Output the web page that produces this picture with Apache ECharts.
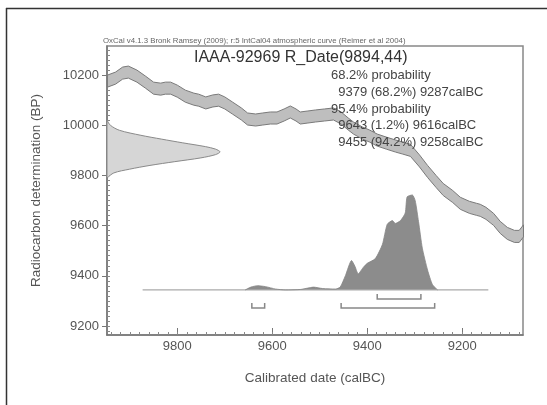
<!DOCTYPE html>
<html>
<head>
<meta charset="utf-8">
<script src="https://cdn.jsdelivr.net/npm/echarts@6/dist/echarts.min.js"></script>
<style>
  html, body { margin: 0; padding: 0; background: #fff; }
  #chart { width: 547px; height: 405px; }
</style>
</head>
<body>
<div id="chart"></div>
<script>
// calibration curve (calBC -> radiocarbon BP, band half width)
const curveCal = [9947, 9930, 9915, 9903, 9885, 9867, 9850, 9835, 9825, 9814, 9800, 9783, 9765, 9755, 9740,
  9725, 9713, 9700, 9684, 9665, 9652, 9635, 9620, 9604, 9590, 9575, 9562, 9550, 9541, 9525, 9509, 9490,
  9471, 9455, 9440, 9429, 9410, 9395, 9379, 9360, 9340, 9325, 9309, 9290, 9273, 9255, 9240, 9220, 9204,
  9185, 9170, 9162, 9150, 9134, 9120, 9105, 9090, 9080, 9071]
const curveBP = [10176, 10188, 10208, 10212, 10196, 10172, 10148, 10144, 10148, 10148, 10136, 10116, 10104,
  10100, 10089, 10097, 10100, 10089, 10069, 10045, 10025, 10021, 10025, 10029, 10029, 10041, 10053, 10041,
  10029, 10033, 10037, 10041, 10045, 10029, 10005, 9989, 9969, 9957, 9941, 9929, 9917, 9909, 9900, 9858,
  9816, 9776, 9744, 9716, 9689, 9673, 9665, 9661, 9649, 9625, 9593, 9569, 9557, 9557, 9579]
const curveErr = 24

// radiocarbon determination 9894 +/- 44 (relative density)
const priorBP = [10020, 10000, 9980, 9960, 9945, 9930, 9915, 9905, 9894, 9883, 9870, 9855, 9840, 9825, 9810, 9790]
const priorDens = [0, 0.03, 0.11, 0.30, 0.48, 0.67, 0.87, 0.96, 1.0, 0.96, 0.83, 0.60, 0.38, 0.20, 0.06, 0]

// calibrated posterior (relative)
const postCal = [9657, 9645, 9631, 9614, 9593, 9572, 9541, 9525, 9513, 9494, 9467, 9457, 9446, 9433, 9426,
  9419, 9408, 9400, 9383, 9368, 9358, 9347, 9341, 9330, 9320, 9316, 9305, 9299, 9292, 9284, 9273, 9263, 9252]
const postDens = [0, 0.03, 0.045, 0.035, 0.01, 0, 0.005, 0.02, 0.03, 0.015, 0.01, 0.03, 0.15, 0.31, 0.25,
  0.17, 0.24, 0.28, 0.33, 0.48, 0.69, 0.73, 0.70, 0.73, 0.81, 0.98, 1.0, 0.94, 0.72, 0.44, 0.21, 0.06, 0]
const baselineCal = [9873, 9145]

// highest probability ranges
const rangeFrom = [9379, 9643, 9455]
const rangeTo = [9287, 9616, 9258]
const rangeRow = [0, 1, 1]

const xTicks = [9200, 9400, 9600, 9800]
const yTicks = [9200, 9400, 9600, 9800, 10000, 10200]

const titleText = 'IAAA-92969 R_Date(9894,44)'
const creditText = 'OxCal v4.1.3 Bronk Ramsey (2009); r:5 IntCal04 atmospheric curve (Reimer et al 2004)'
const summaryLines = [
  '68.2% probability',
  '  9379 (68.2%) 9287calBC',
  '95.4% probability',
  '  9643 (1.2%) 9616calBC',
  '  9455 (94.2%) 9258calBC',
]

const FONT = 'Liberation Sans, Arial, sans-serif'
const xMinor = []
for (let v = 9080; v <= 9940; v += 20) xMinor.push(v)
const yMinor = []
for (let v = 9180; v <= 10300; v += 20) yMinor.push(v)

const chart = echarts.init(document.getElementById('chart'), null, { renderer: 'canvas' })

const bandData = curveCal.map((c, i) => [c, curveBP[i] - curveErr, curveBP[i] + curveErr])
const priorData = priorBP.map((b, i) => [priorDens[i], b])
const plain = (v) => String(v)

const option = {
  animation: false,
  backgroundColor: '#fff',
  grid: {
    left: 107, top: 46, right: 24, bottom: 70,
    show: true, borderColor: '#888', borderWidth: 1.5,
  },
  xAxis: [
    {
      type: 'value', min: 9072, max: 9948, inverse: true,
      name: 'Calibrated date (calBC)', nameLocation: 'middle', nameGap: 36,
      nameTextStyle: { fontFamily: FONT, fontSize: 13.5, color: '#555' },
      axisLine: { show: true, onZero: false, lineStyle: { color: '#777', width: 1.5 } },
      axisTick: { show: true, inside: true, length: 7, customValues: xTicks, lineStyle: { color: '#777' } },
      axisLabel: { customValues: xTicks, formatter: plain, margin: 5, fontFamily: FONT, fontSize: 13, color: '#555' },
      splitLine: { show: false },
    },
    {
      type: 'value', min: 9072, max: 9948, inverse: true, position: 'bottom',
      axisLine: { show: false, onZero: false },
      axisTick: { show: true, inside: true, length: 3, customValues: xMinor, lineStyle: { color: '#888' } },
      axisLabel: { show: false },
      splitLine: { show: false },
    },
    { type: 'value', min: 0, max: 3.68, show: false, axisLine: { onZero: false }, splitLine: { show: false } },
  ],
  yAxis: [
    {
      type: 'value', min: 9164, max: 10316,
      name: 'Radiocarbon determination (BP)', nameLocation: 'middle', nameGap: 64,
      nameTextStyle: { fontFamily: FONT, fontSize: 13.5, color: '#555' },
      axisLine: { show: true, onZero: false, lineStyle: { color: '#777', width: 1.5 } },
      axisTick: { show: true, inside: false, length: 5, customValues: yTicks, lineStyle: { color: '#777' } },
      axisLabel: { customValues: yTicks, formatter: plain, margin: 8, fontFamily: FONT, fontSize: 13, color: '#555' },
      splitLine: { show: false },
    },
    {
      type: 'value', min: 9164, max: 10316, position: 'left',
      axisLine: { show: false, onZero: false },
      axisTick: { show: true, inside: true, length: 3, customValues: yMinor, lineStyle: { color: '#888' } },
      axisLabel: { show: false },
      splitLine: { show: false },
    },
    { type: 'value', min: -0.474, max: 2.568, show: false, axisLine: { onZero: false }, splitLine: { show: false } },
  ],
  series: [
    {
      // prior on the BP axis
      type: 'custom', xAxisIndex: 2, yAxisIndex: 0, silent: true,
      data: priorData,
      renderItem: (params, api) => {
        if (params.dataIndex !== 0) return
        const pts = priorData.map((d) => api.coord(d))
        pts.push(api.coord([0, priorBP[priorBP.length - 1]]))
        pts.push(api.coord([0, priorBP[0]]))
        return {
          type: 'polygon',
          shape: { points: pts, smooth: 0.3 },
          style: { fill: '#d6d6d6', stroke: '#8a8a8a', lineWidth: 1 },
        }
      },
    },
    {
      // calibration curve band
      type: 'custom', xAxisIndex: 0, yAxisIndex: 0, silent: true,
      data: bandData,
      renderItem: (params, api) => {
        if (params.dataIndex !== 0) return
        const upper = bandData.map((d) => api.coord([d[0], d[2]]))
        const lower = bandData.map((d) => api.coord([d[0], d[1]])).reverse()
        return {
          type: 'polygon',
          shape: { points: upper.concat(lower) },
          style: { fill: '#bebebe', stroke: '#7a7a7a', lineWidth: 1 },
        }
      },
    },
    {
      // baseline under the posterior
      type: 'line', xAxisIndex: 0, yAxisIndex: 2, silent: true, symbol: 'none',
      data: baselineCal.map((c) => [c, 0]),
      lineStyle: { color: '#aaa', width: 1.2 },
    },
    {
      type: 'line', xAxisIndex: 0, yAxisIndex: 2, silent: true, symbol: 'none', smooth: 0.2,
      data: postCal.map((c, i) => [c, postDens[i]]),
      lineStyle: { color: '#858585', width: 0.8 },
      areaStyle: { color: '#8c8c8c', opacity: 1 },
    },
    {
      // range brackets
      type: 'custom', xAxisIndex: 0, yAxisIndex: 2, silent: true,
      data: rangeFrom.map((f, i) => [f, rangeTo[i], rangeRow[i]]),
      renderItem: (params, api) => {
        const a = api.coord([api.value(0), 0])
        const b = api.coord([api.value(1), 0])
        const y = a[1] + 9 + api.value(2) * 9
        return {
          type: 'polyline',
          shape: { points: [[a[0], y - 5], [a[0], y], [b[0], y], [b[0], y - 5]] },
          style: { fill: null, stroke: '#888', lineWidth: 1.5 },
        }
      },
    },
  ],
  graphic: [
    { type: 'line', shape: { x1: 6, y1: 8.5, x2: 547, y2: 8.5 }, style: { stroke: '#333', lineWidth: 1.5 } },
    { type: 'line', shape: { x1: 6.5, y1: 8, x2: 6.5, y2: 405 }, style: { stroke: '#333', lineWidth: 1.5 } },
    {
      type: 'text', left: 103, top: 37,
      style: { text: creditText, font: '7.8px ' + FONT, fill: '#666' },
    },
    {
      type: 'text', left: 194, top: 50, z: 10,
      style: { text: titleText, font: '16px ' + FONT, fill: '#333' },
    },
    ...summaryLines.map((t, i) => ({
      type: 'text', left: 331, top: 69 + i * 16.8, z: 10,
      style: { text: t, font: '13px ' + FONT, fill: '#444' },
    })),
  ],
}

chart.setOption(option)
</script>
</body>
</html>
